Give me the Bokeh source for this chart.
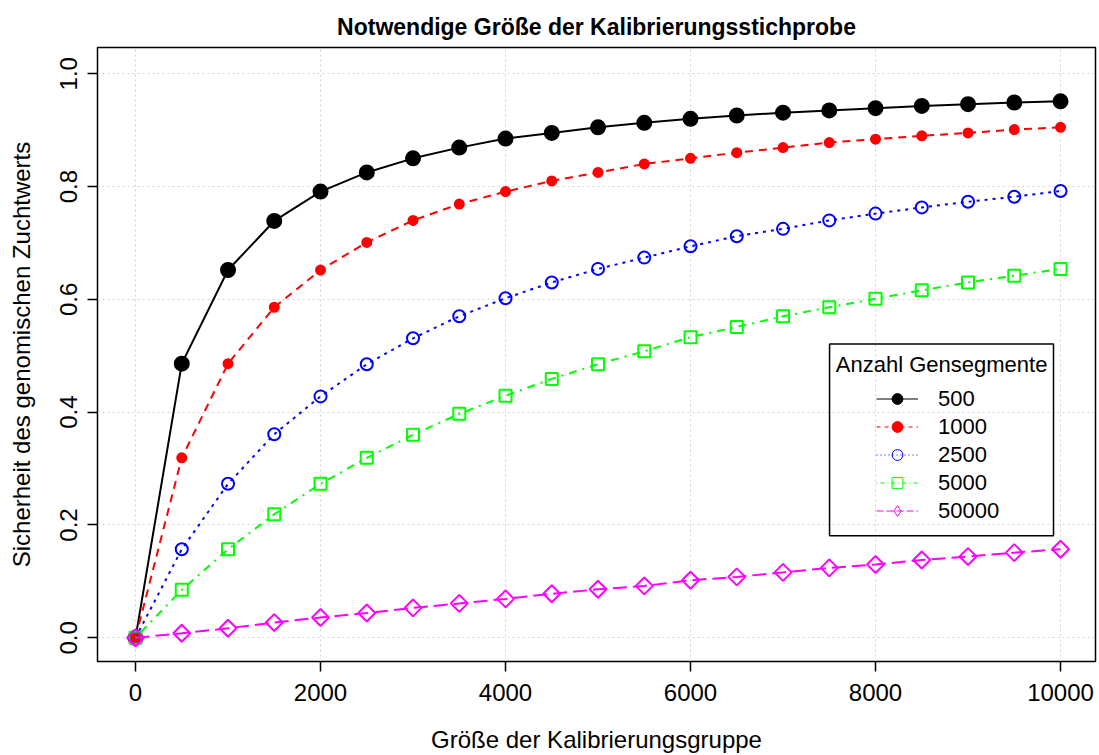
import math
from bokeh.plotting import figure
from bokeh.models import (Range1d, FixedTicker, NumeralTickFormatter, Legend, LegendItem,
                          Label, BoxAnnotation)
from bokeh.embed import file_html
from bokeh.resources import INLINE

# ---------------- data ----------------
groesse = [0, 500, 1000, 1500, 2000, 2500, 3000, 3500, 4000, 4500, 5000,
           5500, 6000, 6500, 7000, 7500, 8000, 8500, 9000, 9500, 10000]

seg_500 = [0.0, 0.486, 0.652, 0.739, 0.791, 0.825, 0.850, 0.869, 0.885, 0.895, 0.905,
           0.913, 0.920, 0.926, 0.931, 0.935, 0.939, 0.943, 0.946, 0.949, 0.951]
seg_1000 = [0.0, 0.319, 0.486, 0.586, 0.652, 0.701, 0.740, 0.769, 0.791, 0.810, 0.825,
            0.840, 0.850, 0.860, 0.869, 0.878, 0.884, 0.890, 0.895, 0.901, 0.905]
seg_2500 = [0.0, 0.157, 0.273, 0.361, 0.428, 0.485, 0.531, 0.570, 0.602, 0.630, 0.654,
            0.674, 0.694, 0.712, 0.725, 0.740, 0.752, 0.763, 0.773, 0.782, 0.792]
seg_5000 = [0.0, 0.085, 0.157, 0.219, 0.273, 0.319, 0.360, 0.397, 0.429, 0.459, 0.485,
            0.508, 0.533, 0.551, 0.570, 0.586, 0.601, 0.616, 0.630, 0.642, 0.654]
seg_50000 = [0.0, 0.008, 0.017, 0.027, 0.036, 0.044, 0.053, 0.061, 0.069, 0.078, 0.086,
             0.092, 0.102, 0.108, 0.116, 0.124, 0.130, 0.138, 0.144, 0.151, 0.157]

series_labels = ["500", "1000", "2500", "5000", "50000"]
series_values = [seg_500, seg_1000, seg_2500, seg_5000, seg_50000]

x_ticks = [0, 2000, 4000, 6000, 8000, 10000]
y_ticks = [0.0, 0.2, 0.4, 0.6, 0.8, 1.0]

title_text = "Notwendige Größe der Kalibrierungsstichprobe"
x_label = "Größe der Kalibrierungsgruppe"
y_label = "Sicherheit des genomischen Zuchtwerts"
legend_title = "Anzahl Gensegmente"

# ---------------- styles ----------------
FONT = "Liberation Sans"
styles = [
    dict(color="#000000", dash="solid", leg_dash="solid", marker="circle", leg_marker="circle",
         size=14, fill=True, angle=0.0),
    dict(color="#ff0000", dash="8 6", leg_dash="4 4", marker="circle", leg_marker="circle",
         size=9, fill=True, angle=0.0),
    dict(color="#0000ff", dash="3 5", leg_dash="1 3", marker="circle", leg_marker="circle",
         size=12, fill=False, angle=0.0),
    dict(color="#00ff00", dash="2 6 8 6", leg_dash="1 3 4 3", marker="square", leg_marker="square",
         size=12, fill=False, angle=0.0),
    dict(color="#ff00ff", dash="14 6", leg_dash="7 3", marker="square", leg_marker="diamond",
         size=12, fill=False, angle=math.pi / 4),
]

p = figure(width=1099, height=755, output_backend="svg", toolbar_location=None,
           x_range=Range1d(-411, 10378), y_range=Range1d(-0.042, 1.0465),
           min_border_left=97, min_border_right=4, min_border_top=47, min_border_bottom=93,
           title=title_text)

p.background_fill_color = "white"
p.border_fill_color = "white"
p.outline_line_color = "black"
p.outline_line_width = 1.5
p.outline_line_alpha = 1.0

p.title.text_font = FONT
p.title.text_font_size = "23px"
p.title.text_font_style = "bold"
p.title.text_color = "black"
p.title.align = "center"
p.title.standoff = 16

# grid
for g in (p.xgrid, p.ygrid):
    g.grid_line_color = "#d3d3d3"
    g.grid_line_dash = "2 3"
    g.grid_line_width = 1
p.xgrid.ticker = FixedTicker(ticks=x_ticks)
p.ygrid.ticker = FixedTicker(ticks=y_ticks)

# axes
for ax in (p.xaxis, p.yaxis):
    ax.axis_line_color = None
    ax.major_tick_line_color = "black"
    ax.major_tick_line_width = 1.5
    ax.major_tick_out = 10
    ax.major_tick_in = 0
    ax.minor_tick_line_color = None
    ax.major_label_text_font = FONT
    ax.major_label_text_font_size = "24px"
    ax.major_label_text_color = "black"
    ax.axis_label_text_font = FONT
    ax.axis_label_text_font_size = "24px"
    ax.axis_label_text_font_style = "normal"
    ax.axis_label_text_color = "black"

p.xaxis.ticker = FixedTicker(ticks=x_ticks)
p.yaxis.ticker = FixedTicker(ticks=y_ticks)
p.yaxis.formatter = NumeralTickFormatter(format="0.0")
p.yaxis.major_label_orientation = "vertical"
p.xaxis.axis_label = x_label
p.yaxis.axis_label = y_label
p.xaxis.major_label_standoff = 12
p.xaxis.axis_label_standoff = 22
p.yaxis.major_label_standoff = 10
p.yaxis.axis_label_standoff = 23

# data series
for vals, st in zip(series_values, styles):
    p.line(groesse, vals, line_color=st["color"], line_width=2, line_dash=st["dash"])
    p.scatter(groesse, vals, marker=st["marker"], size=st["size"], angle=st["angle"],
              line_color=st["color"], line_width=2,
              fill_color=st["color"] if st["fill"] else None)

# legend samples (thin lines like R's legend()); a single NaN point, so nothing in the plot
nan = float("nan")
items = []
for lab, st in zip(series_labels, styles):
    lr = p.line(x=[nan], y=[nan], line_color=st["color"], line_width=1, line_dash=st["leg_dash"])
    sr = p.scatter(x=[nan], y=[nan], marker=st["leg_marker"], size=st["size"],
                   line_color=st["color"], line_width=1,
                   fill_color=st["color"] if st["fill"] else None)
    items.append(LegendItem(label=lab, renderers=[lr, sr]))

legend = Legend(items=items, location=(779, 137), padding=0, margin=0,
                border_line_alpha=0, background_fill_alpha=0,
                glyph_width=42, glyph_height=27, label_height=27, spacing=1,
                label_standoff=20, label_text_font=FONT, label_text_font_size="22px",
                label_text_color="black")
p.add_layout(legend, "center")

p.add_layout(BoxAnnotation(left=7503, right=9924, top=0.5209, bottom=0.181,
                           fill_alpha=0, line_color="black", line_alpha=1.0, line_width=1.5))
p.add_layout(Label(x=8714, y=0.4837, text=legend_title, text_align="center",
                   text_baseline="middle", text_font=FONT, text_font_size="22px",
                   text_color="black"))

open("out.html", "w").write(file_html(p, INLINE))
